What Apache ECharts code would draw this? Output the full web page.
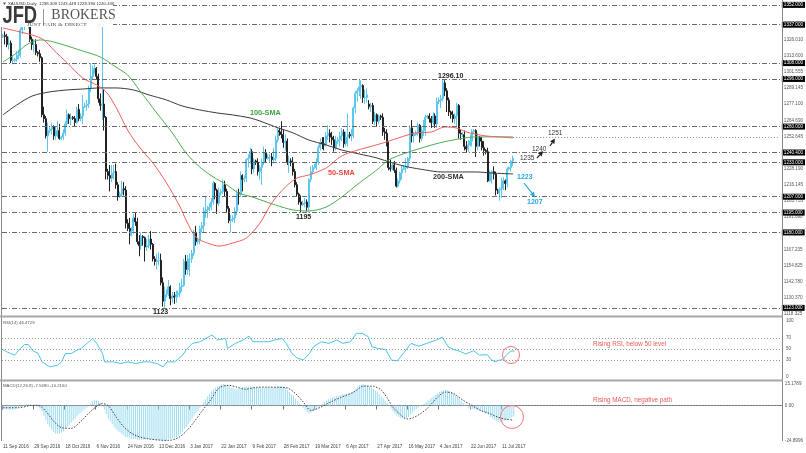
<!DOCTYPE html>
<html><head><meta charset="utf-8">
<script src="https://cdn.jsdelivr.net/npm/echarts@6/dist/echarts.min.js"></script>
<style>html,body{margin:0;padding:0;background:#fff}#c{width:806px;height:453px}</style>
</head><body><div id="c"></div>
<script>
const tickLabels = ['11 Sep 2016','29 Sep 2016','18 Oct 2016','6 Nov 2016','24 Nov 2016','13 Dec 2016','3 Jan 2017','22 Jan 2017','9 Feb 2017','28 Feb 2017','19 Mar 2017','6 Apr 2017','27 Apr 2017','16 May 2017','4 Jun 2017','22 Jun 2017','11 Jul 2017'];
// [open, close, low, high]
const candles = [
[1328,1329,1327,1330],[1329,1328,1322,1332],[1328,1322,1320,1330],[1322,1323,1318,1328],[1323,1310,1308,1325],[1310,1310,1307,1314],
[1310,1311,1309,1312],[1311,1314,1309,1317],[1314,1314,1311,1318],[1314,1333,1312,1335],[1333,1337,1330,1343],[1337,1337,1333,1341],
[1337,1338,1336,1339],[1338,1338,1334,1342],[1338,1326,1324,1340],[1326,1322,1318,1328],[1322,1322,1316,1326],[1322,1316,1314,1326],
[1316,1315,1313,1317],[1315,1312,1309,1318],[1312,1269,1267,1313],[1269,1266,1263,1275],[1266,1253,1251,1268],[1253,1257,1241,1263],
[1257,1258,1255,1260],[1258,1260,1254,1263],[1260,1253,1250,1261],[1253,1255,1250,1260],[1255,1257,1252,1264],[1257,1251,1250,1262],
[1251,1252,1250,1253],[1252,1255,1250,1258],[1255,1262,1253,1264],[1262,1269,1260,1273],[1269,1266,1262,1270],[1266,1267,1261,1270],
[1267,1266,1265,1268],[1266,1263,1260,1268],[1263,1273,1262,1275],[1273,1266,1264,1277],[1266,1268,1264,1270],[1268,1275,1262,1284],
[1275,1276,1274,1278],[1276,1277,1272,1280],[1277,1289,1274,1291],[1289,1298,1286,1308],[1298,1303,1296,1306],[1303,1304,1300,1307],
[1304,1298,1296,1305],[1298,1281,1278,1300],[1281,1276,1272,1285],[1276,1277,1265,1337],[1277,1267,1257,1288],[1267,1226,1220,1268],
[1226,1223,1220,1228],[1223,1221,1211,1231],[1221,1225,1218,1231],[1225,1226,1220,1231],[1226,1216,1213,1232],[1216,1207,1204,1218],
[1207,1209,1206,1211],[1209,1213,1207,1219],[1213,1212,1208,1218],[1212,1187,1183,1215],[1187,1183,1181,1190],[1183,1178,1171,1191],
[1178,1181,1177,1184],[1181,1191,1179,1194],[1191,1188,1185,1195],[1188,1173,1171,1191],[1173,1170,1162,1178],[1170,1177,1167,1180],
[1177,1176,1170,1178],[1176,1169,1158,1177],[1169,1170,1166,1175],[1170,1175,1168,1178],[1175,1171,1167,1181],[1171,1160,1158,1172],
[1160,1158,1155,1162],[1158,1159,1152,1164],[1159,1159,1155,1165],[1159,1142,1140,1164],[1142,1128,1124,1146],[1128,1133,1123,1139],
[1133,1135,1131,1137],[1135,1139,1132,1144],[1139,1130,1125,1140],[1130,1132,1127,1135],[1132,1131,1126,1135],[1131,1133,1127,1136],
[1133,1134,1131,1136],[1134,1139,1131,1142],[1139,1140,1135,1145],[1140,1158,1139,1160],[1158,1152,1148,1163],[1152,1160,1148,1163],
[1160,1160,1147,1164],[1160,1164,1157,1167],[1164,1180,1162,1182],[1180,1173,1170,1185],
[1173,1174,1171,1176],[1174,1183,1171,1185],[1183,1185,1180,1188],[1185,1196,1180,1199],[1196,1196,1191,1207],[1196,1197,1191,1200],
[1197,1199,1196,1202],[1199,1203,1197,1206],[1203,1217,1201,1219],[1217,1212,1205,1218],[1212,1202,1194,1213],[1202,1210,1200,1214],
[1210,1211,1208,1213],[1211,1216,1209,1220],[1216,1211,1207,1219],[1211,1198,1195,1213],[1198,1189,1187,1200],[1189,1190,1180,1193],
[1190,1191,1188,1193],[1191,1196,1187,1199],[1196,1210,1193,1212],[1210,1209,1201,1213],[1209,1223,1207,1226],[1223,1220,1211,1224],
[1220,1221,1218,1223],[1221,1235,1218,1236],[1235,1236,1229,1239],[1236,1241,1232,1244],[1241,1228,1224,1243],[1228,1234,1225,1236],
[1234,1233,1231,1235],[1233,1226,1223,1236],[1226,1229,1220,1231],[1229,1233,1216,1236],[1233,1240,1231,1245],[1240,1236,1233,1243],
[1236,1237,1235,1239],[1237,1237,1233,1239],[1237,1235,1230,1240],[1235,1236,1232,1244],[1236,1250,1234,1253],[1250,1257,1248,1259],
[1257,1256,1253,1259],[1256,1254,1251,1264],[1254,1248,1244,1258],[1248,1249,1242,1254],[1249,1233,1231,1251],[1233,1234,1225,1238],
[1234,1233,1230,1236],[1233,1226,1223,1237],[1226,1216,1214,1228],[1216,1209,1207,1218],[1209,1203,1201,1210],[1203,1201,1195,1208],
[1201,1202,1200,1204],[1202,1203,1199,1206],[1203,1199,1196,1205],[1199,1220,1195,1221],[1220,1226,1218,1230],[1226,1229,1224,1231],
[1229,1230,1228,1232],[1230,1233,1227,1236],[1233,1244,1231,1246],[1244,1248,1242,1251],[1248,1247,1243,1252],[1247,1246,1242,1252],
[1246,1253,1245,1256],[1253,1255,1250,1261],[1255,1252,1248,1258],[1252,1250,1246,1256],[1250,1244,1241,1253],[1244,1249,1242,1253],
[1249,1250,1247,1252],[1250,1253,1245,1256],[1253,1256,1249,1259],[1256,1247,1244,1258],[1247,1252,1245,1256],[1252,1254,1245,1270],
[1254,1253,1251,1256],[1253,1254,1249,1258],[1254,1274,1251,1275],[1274,1285,1270,1287],[1285,1287,1279,1289],
[1287,1290,1283,1296],[1290,1291,1281,1295],[1291,1282,1278,1292],[1282,1282,1277,1288],[1282,1284,1278,1289],
[1277,1275,1273,1280],[1275,1276,1271,1278],[1276,1264,1262,1278],[1264,1269,1261,1271],[1269,1264,1260,1270],[1264,1268,1262,1269],
[1268,1267,1265,1269],[1267,1256,1253,1270],[1256,1255,1250,1259],[1255,1248,1245,1258],[1248,1229,1227,1249],[1229,1228,1226,1235],
[1228,1231,1227,1232],[1231,1227,1225,1234],[1227,1215,1214,1229],[1215,1219,1214,1221],[1219,1225,1217,1226],[1225,1228,1220,1231],
[1228,1229,1227,1231],[1229,1230,1225,1236],[1230,1236,1228,1237],[1236,1259,1234,1261],[1259,1253,1248,1265],[1253,1254,1248,1256],
[1254,1255,1253,1257],[1255,1261,1253,1263],[1261,1251,1248,1262],[1251,1257,1249,1260],[1257,1257,1253,1265],[1257,1267,1253,1269],
[1267,1268,1266,1269],[1268,1266,1263,1270],[1266,1263,1259,1268],[1263,1268,1261,1271],[1268,1262,1259,1270],[1262,1279,1259,1282],
[1279,1280,1277,1282],[1280,1281,1274,1284],[1281,1293,1279,1296],[1293,1287,1283,1295],[1287,1280,1271,1289],[1280,1271,1268,1282],
[1271,1269,1266,1272],[1269,1266,1263,1272],[1266,1268,1262,1270],[1268,1276,1260,1278],[1276,1255,1251,1277],[1255,1254,1250,1258],
[1254,1254,1252,1256],[1254,1245,1242,1257],[1245,1243,1240,1249],[1243,1246,1241,1250],[1246,1249,1245,1254],[1249,1256,1245,1258],
[1256,1257,1255,1258],[1257,1245,1237,1258],[1245,1252,1242,1255],[1252,1249,1245,1253],[1249,1244,1242,1252],[1244,1242,1238,1249],
[1242,1241,1239,1243],[1241,1219,1218,1244],[1219,1225,1218,1227],[1225,1226,1217,1227],[1226,1224,1220,1230],[1224,1212,1208,1226],
[1212,1210,1209,1213],[1210,1212,1204,1214],[1212,1213,1206,1221],[1213,1219,1212,1222],[1219,1217,1212,1220],[1217,1228,1214,1229],
[1228,1229,1227,1230],[1229,1234,1226,1235],[1234,1236,1230,1238]
];
// SMA readings: [bar index, price]
const sma50 = [[0,1334.5],[15,1329.2],[21,1325.5],[26,1317.9],[33,1308.1],[41,1296.7],[48,1291.5],[53,1286.2],[58,1274.8],[64,1257.4],[70,1244.6],[77,1232.5],[84,1217.4],[91,1199.2],[94,1189.4],[99,1176.5],[105,1172],[111,1169.7],[118,1172],[125,1175.8],[132,1187.1],[138,1202.2],[145,1214.3],[151,1221.1],[157,1223.4],[166,1228.7],[173,1237],[179,1240.8],[188,1244.6],[197,1248.4],[203,1251.4],[212,1255.2],[220,1255.9],[227,1259.7],[233,1258.9],[238,1255.9],[248,1252.9],[255,1252.2],[262,1251.4]];
const sma100 = [[0,1308.8],[7,1315.6],[12,1321.7],[19,1325.5],[26,1324],[33,1320.9],[41,1317.1],[50,1312.6],[58,1305],[64,1299],[70,1287.7],[79,1270.3],[87,1255.2],[94,1240.1],[101,1229.5],[108,1221.9],[115,1215.9],[121,1209.8],[128,1206.8],[140,1200.7],[149,1197],[157,1196.2],[166,1199.2],[174,1206.8],[183,1217.4],[192,1227.2],[198,1234.7],[207,1240.1],[215,1243.8],[224,1247.6],[234,1250.6],[243,1252.2],[251,1252.2],[262,1252.2]];
const sma200 = [[0,1268.8],[7,1276.3],[15,1283.1],[24,1286.2],[33,1287.7],[41,1288.4],[50,1289.2],[58,1289.2],[67,1287.7],[75,1283.9],[84,1280.1],[92,1275.6],[101,1272.6],[110,1270.3],[118,1268.8],[127,1266.5],[132,1264.2],[140,1259.7],[149,1255.2],[157,1249.9],[166,1246.1],[174,1242.3],[183,1239.3],[192,1236.3],[200,1232.5],[208,1229.5],[217,1227.2],[225,1225.7],[234,1225.7],[243,1225.7],[251,1224.9],[262,1224.2]];
const rsi = [[0,49],[2,45],[6,39],[9,51],[11,58],[13,58],[15,48],[18,42],[20,27],[24,18],[28,21],[30,27],[32,42],[35,42],[38,48],[40,51],[44,63],[46,69],[48,60],[51,42],[52,27],[57,27],[60,24],[64,27],[68,24],[72,27],[75,27],[79,24],[82,18],[84,27],[88,27],[92,39],[94,49],[97,60],[101,63],[104,69],[107,75],[110,66],[114,69],[115,51],[119,60],[123,66],[126,73],[128,63],[132,63],[136,63],[139,66],[143,69],[145,60],[148,42],[151,33],[154,31],[157,42],[159,54],[163,63],[167,60],[171,66],[174,60],[178,63],[181,78],[184,78],[187,72],[189,54],[192,51],[196,49],[199,30],[202,29],[205,42],[209,60],[213,55],[217,60],[222,66],[225,71],[228,54],[231,49],[234,46],[237,41],[241,47],[244,39],[248,40],[250,31],[252,27],[254,30],[256,31],[258,40],[260,46],[261,48],[262,46.47]];
const macdMain = [
-2,-2.5,-2.8,-3,-2.8,-3,-2.5,-2,-1.5,-1,
0,0.5,1,1.2,1,0.5,0,-0.5,-1,-2,
-4,-7,-10,-13,-15,-17,-18.5,-19.5,-20,-19.5,
-19,-18,-16.5,-15,-13.5,-12,-10.5,-9,-7.5,-6,
-5,-3.5,-2.5,-1.5,0,1.5,3,3.8,3.5,3,
2,0,-3,-6,-9,-11,-13,-15,-16.5,-18,
-19,-20,-21,-22,-22.5,-23,-23.5,-23.5,-23.5,-24,
-24,-24,-23.8,-23.8,-23.5,-23.5,-23.8,-24,-24.2,-24.4,
-24.5,-24.7,-24.9,-24.8,-24.5,-24,-23.5,-23,-22.5,-22,
-21,-20,-18.5,-16.5,-15,-13,-11,-9,-7,-5,
-3.5,-1.5,0.5,2.5,4.5,6.5,8,10,11.5,12.5,
13.5,14.2,14.8,15.18,15,14.5,13.5,12.5,12,11.5,
11.5,12,12.5,13,13.2,13.4,13.5,13.5,13.3,13,
13,12.8,12.6,12.5,12.6,12.8,12.8,12.7,12.6,12.7,
13,13.5,13.8,14,13.5,12.5,11,9.5,8,6.5,
5,3,1.5,0,-1.5,-3,-4.5,-5.5,-5,-4,
-3,-2,-1,0.5,1.5,2.5,3.5,4.5,5,5.5,
6,6.5,7,7.5,8,8,8.5,8.5,9,9.5,
10.5,12,13.5,14.5,15,14.8,14.5,14,13.5,12.5,
11.5,10.5,9.5,8,6.5,5,3.5,2,0,-2,
-4,-5.5,-7,-8,-8.8,-9,-9,-8.8,-8,-6.5,
-5,-3.5,-2.5,-1.5,-0.5,0.5,1.5,2.5,3.5,4.5,
5.5,6.5,7.5,8.5,9.5,10.2,10.9,11,10.8,10.3,
9.5,8.5,7.5,6.5,5,3.5,2,0.5,-0.5,-1.5,
-2,-2.5,-2.8,-3,-3.5,-4,-4.5,-5,-5.5,-6.5,
-8,-9,-10,-10.8,-11.3,-11.5,-11.3,-10.8,-10.2,-9.5,
-9,-8.3,-7.569
];
const macdSignal = [[0,-1.5],[8,-1.5],[14,0],[18,0.2],[22,-4],[26,-11],[30,-15.5],[35,-16],[40,-11],[45,-4],[51,1.4],[54,0],[58,-8],[62,-15],[66,-19.5],[70,-22],[75,-23.5],[80,-24.2],[85,-24.5],[90,-22.5],[94,-18],[98,-11.5],[102,-4],[106,3],[111,12.5],[116,14.2],[120,13],[124,11.5],[130,12.8],[136,13],[142,12.8],[146,12.3],[150,8.5],[154,2.5],[158,-3.4],[163,-1.1],[168,2.5],[174,6.1],[180,9.5],[185,13.7],[190,13.5],[194,10.9],[197,5.5],[200,-1.1],[204,-6.5],[207,-9.4],[210,-8.8],[214,-5.8],[218,-1.5],[223,6.1],[227,9.5],[231,8.5],[236,3.7],[240,0.5],[245,-3.4],[250,-5.8],[254,-8.2],[258,-9.6],[262,-10.216]];
const levels = [1352, 1337, 1308, 1296, 1260, 1240.4, 1233, 1207, 1195, 1180, 1123];
const priceTicks = [1118.325,1130.370,1142.780,1154.825,1167.235,1179.280,1191.690,1203.735,1216.145,1228.190,1240.600,1252.645,1264.690,1277.100,1289.145,1301.555,1313.600,1326.010,1338.055,1350.465];
const resistance1251 = 1251.8;

const N = 400;
const cats = Array.from({length: N}, (_, i) => String(i));
const FONT = 'Liberation Sans';
const lblFs = 4.6;
const showTick = (i) => i % 16 === 0 && i / 16 < tickLabels.length;

const chart = echarts.init(document.getElementById('c'), null, {renderer: 'canvas'});

function arrow(x1, y1, x2, y2, color) {
  const ang = Math.atan2(y2 - y1, x2 - x1), L = 5, W = 2.6;
  const bx = x2 - L * Math.cos(ang), by = y2 - L * Math.sin(ang);
  const px = -Math.sin(ang) * W, py = Math.cos(ang) * W;
  return [
    {type: 'line', z: 60, shape: {x1, y1, x2: bx, y2: by}, style: {stroke: color, lineWidth: 1.2}},
    {type: 'polygon', z: 60, shape: {points: [[x2, y2], [bx + px, by + py], [bx - px, by - py]]}, style: {fill: color}}
  ];
}
function txt(x, y, text, fs, color, bold, extra) {
  return Object.assign({type: 'text', z: 60, x, y, style: {text, fontSize: fs, fontFamily: FONT, fontWeight: bold ? 'bold' : 'normal', fill: color, textVerticalAlign: 'middle', textAlign: 'left'}}, extra || {});
}

const graphics = [
  {type: 'line', z: 50, shape: {x1: 1.5, y1: 0, x2: 1.5, y2: 441}, style: {stroke: '#888', lineWidth: 1}},
  {type: 'line', z: 50, shape: {x1: 782.5, y1: 0, x2: 782.5, y2: 441}, style: {stroke: '#888', lineWidth: 1}},
  {type: 'rect', z: 50, shape: {x: 0, y: 315.5, width: 783, height: 2}, style: {fill: '#a8a8a8'}},
  {type: 'rect', z: 50, shape: {x: 0, y: 379.5, width: 783, height: 2}, style: {fill: '#a8a8a8'}},
  {type: 'rect', z: 55, shape: {x: 0, y: 0, width: 113, height: 27}, style: {fill: '#fff'}},
  {type: 'polygon', z: 60, shape: {points: [[3, 2.5], [6, 2.5], [4.5, 5]]}, style: {fill: '#555'}},
  txt(8, 4, 'XAUUSD,Daily  1238.309 1243.449 1228.390 1240.436', 4.3, '#333', false),
  txt(2, 17, 'JFD', 23, '#3b3b3b', true, {scaleX: 0.8, scaleY: 1, originX: 2, originY: 17}),
  {type: 'line', z: 60, shape: {x1: 43.5, y1: 9, x2: 43.5, y2: 25}, style: {stroke: '#999', lineWidth: 1}},
  {type: 'text', z: 60, x: 48, y: 15, style: {text: 'BROKERS', fontSize: 15, fontFamily: 'Liberation Serif', fill: '#555', textVerticalAlign: 'middle'}, scaleX: 0.93, originX: 48, originY: 15},
  {type: 'text', z: 60, x: 49, y: 24.5, style: {text: 'JUST FAIR & DIRECT', fontSize: 4.3, fontFamily: 'Liberation Serif', fill: '#555', textVerticalAlign: 'middle'}, scaleX: 1.45, originX: 49, originY: 24.5},
  txt(3, 322.5, 'RSI(14) 46.4729', 4.3, '#555', false),
  txt(3, 386, 'MACD(12,26,9) -7.5690 -10.2160', 4.3, '#555', false),
  txt(250, 113, '100-SMA', 7.3, '#3ea640', true),
  txt(328, 173, '50-SMA', 7.3, '#e8463d', true),
  txt(433, 177, '200-SMA', 7.3, '#333', true),
  txt(438, 76, '1296.10', 7, '#222', true),
  txt(296, 217.5, '1195', 7, '#222', true),
  txt(153, 312.5, '1123', 7, '#222', true),
  txt(517, 177, '1223', 7, '#27a8df', true),
  txt(527, 202.5, '1207', 7, '#27a8df', true),
  txt(520, 158, '1235', 6.5, '#333', false),
  txt(532, 149, '1240', 6.5, '#333', false),
  txt(548, 133, '1251', 6.5, '#333', false),
  ...arrow(537, 158, 543, 151, '#222'),
  ...arrow(550, 146, 555, 138.5, '#222'),
  ...arrow(524, 183, 535, 197, '#27a8df'),
  {type: 'circle', z: 60, shape: {cx: 511, cy: 355, r: 8.5}, style: {fill: 'none', stroke: '#f07777', lineWidth: 1}},
  {type: 'circle', z: 60, shape: {cx: 512, cy: 417, r: 11.5}, style: {fill: 'none', stroke: '#f07777', lineWidth: 1}},
  txt(593, 344, 'Rising RSI, below 50 level', 6.3, '#ef5a55', false),
  txt(593, 400, 'Rising MACD, negative path', 6.3, '#ef5a55', false)
];

const hiddenX = (gi) => ({gridIndex: gi, type: 'category', data: cats, boundaryGap: true, axisLine: {show: false}, axisTick: {show: false}, axisLabel: {show: false}, splitLine: {show: false}});

const option = {
  animation: false,
  backgroundColor: '#fff',
  grid: [
    {left: 2, right: 23, top: 3, height: 312},
    {left: 2, right: 23, top: 321, height: 56},
    {left: 2, right: 23, top: 384, height: 57}
  ],
  xAxis: [hiddenX(0), hiddenX(1), {
    gridIndex: 2, type: 'category', data: cats, boundaryGap: true,
    axisLine: {show: true, lineStyle: {color: '#777', width: 1}},
    axisTick: {show: true, interval: showTick, length: 4, lineStyle: {color: '#777'}},
    axisLabel: {show: true, interval: showTick, formatter: (v, i) => tickLabels[i / 16] || '', align: 'left', fontSize: lblFs, fontFamily: FONT, color: '#444', margin: 3},
    splitLine: {show: false}
  }],
  yAxis: [
    {gridIndex: 0, type: 'value', position: 'right', min: 1117.6, max: 1353.4, axisLine: {show: false}, axisTick: {show: false}, splitLine: {show: false},
      axisLabel: {customValues: priceTicks, formatter: v => v.toFixed(3), fontSize: lblFs, fontFamily: FONT, color: '#555', margin: 3}},
    {gridIndex: 1, type: 'value', position: 'right', min: 0, max: 100, axisLine: {show: false}, axisTick: {show: false}, splitLine: {show: false},
      axisLabel: {customValues: [0, 30, 50, 70, 100], fontSize: lblFs, fontFamily: FONT, color: '#555', margin: 3}},
    {gridIndex: 2, type: 'value', position: 'right', min: -24.8996, max: 15.1789, axisLine: {show: false}, axisTick: {show: false}, splitLine: {show: false},
      axisLabel: {customValues: [-24.8996, 0, 15.1789], formatter: v => v === 0 ? '0.00' : v.toFixed(4), fontSize: lblFs, fontFamily: FONT, color: '#555', margin: 3}}
  ],
  series: [
    {type: 'candlestick', xAxisIndex: 0, yAxisIndex: 0, data: candles, barWidth: 1.5,
      itemStyle: {color: '#5cc6ec', color0: '#222', borderColor: '#5cc6ec', borderColor0: '#222', borderWidth: 1},
      markLine: {silent: true, symbol: ['none', 'none'], animation: false,
        lineStyle: {type: [5, 2, 1, 2], color: '#6a6a6a', width: 1},
        label: {show: true, position: 'end', distance: 1, formatter: p => p.value.toFixed(3), backgroundColor: '#000', color: '#fff', fontSize: lblFs, fontFamily: FONT, padding: [1, 2, 0, 2]},
        data: levels.map(v => ({yAxis: v}))}},
    {type: 'line', xAxisIndex: 0, yAxisIndex: 0, data: [[262, resistance1251], [N - 1, resistance1251]], symbol: 'none', lineStyle: {type: [1, 2], color: '#888', width: 1}, z: 3},
    {type: 'line', xAxisIndex: 0, yAxisIndex: 0, data: sma200, smooth: 0.3, symbol: 'none', lineStyle: {color: '#3a3a3a', width: 1}, z: 4},
    {type: 'line', xAxisIndex: 0, yAxisIndex: 0, data: sma100, smooth: 0.3, symbol: 'none', lineStyle: {color: '#4caf50', width: 1}, z: 4},
    {type: 'line', xAxisIndex: 0, yAxisIndex: 0, data: sma50, smooth: 0.3, symbol: 'none', lineStyle: {color: '#f0605a', width: 1}, z: 4},
    {type: 'line', xAxisIndex: 1, yAxisIndex: 1, data: rsi, symbol: 'none', lineStyle: {color: '#4cc3ea', width: 1},
      markLine: {silent: true, symbol: ['none', 'none'], label: {show: false}, lineStyle: {type: [1, 2], color: '#999', width: 1}, data: [{yAxis: 70}, {yAxis: 50}, {yAxis: 30}]}},
    {type: 'bar', xAxisIndex: 2, yAxisIndex: 2, data: macdMain, barWidth: 1, itemStyle: {color: '#9ddcf3'},
      markLine: {silent: true, symbol: ['none', 'none'], label: {show: false}, lineStyle: {type: [1, 2], color: '#999', width: 1}, data: [{yAxis: 0}]}},
    {type: 'line', xAxisIndex: 2, yAxisIndex: 2, data: macdSignal, smooth: 0.3, symbol: 'none', lineStyle: {type: [1.5, 1.5], color: '#444', width: 1}, z: 5}
  ],
  graphic: graphics
};
chart.setOption(option);
</script>
</body></html>
